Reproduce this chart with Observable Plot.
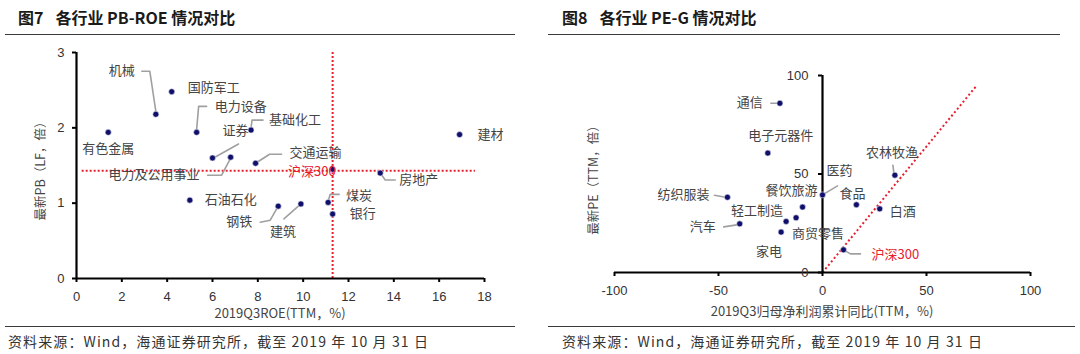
<!DOCTYPE html>
<html><head><meta charset="utf-8">
<script src="https://cdn.jsdelivr.net/npm/d3@7"></script>
<script src="https://cdn.jsdelivr.net/npm/@observablehq/plot@0.6"></script>
<style>
body{margin:0;background:#fff;}
#root{position:relative;width:1080px;height:354px;overflow:hidden;font-family:"Liberation Sans",Arial,sans-serif;}
.title{position:absolute;top:7px;line-height:20px;font-family:"Noto Sans CJK SC";font-weight:bold;font-size:16px;color:#1a1a1a;white-space:nowrap;}
.title .gap{display:inline-block;width:12px;}
.rule{position:absolute;height:0;border-top:1.5px solid #3a3a3a;}
.src{position:absolute;top:332px;line-height:18px;font-size:14px;color:#333;font-family:"Noto Sans CJK SC";white-space:nowrap;letter-spacing:1.1px;}
.xt{position:absolute;font-size:13px;line-height:16px;color:#444;white-space:nowrap;transform:translateX(-50%);font-family:"Noto Sans CJK SC";}
.yt{position:absolute;font-size:12.5px;line-height:16px;color:#444;white-space:nowrap;transform:translate(-50%,-50%) rotate(-90deg);font-family:"Noto Sans CJK SC";}
.plot{position:absolute;top:36px;}
</style></head><body><div id="root"></div>
<script>
// ---------- 图7 各行业 PB-ROE ----------
const pbIndustries = ["有色金属","机械","国防军工","电力设备","证券","电力及公用事业","基础化工","交通运输","沪深300","房地产","建材","石油石化","钢铁","建筑","煤炭","银行"];
const pbROE = [1.4, 3.5, 4.2, 5.3, 6.0, 6.8, 7.7, 7.9, 11.3, 13.4, 16.9, 5.0, 8.9, 9.9, 11.1, 11.3];
const pbPB  = [1.94, 2.18, 2.48, 1.94, 1.60, 1.61, 1.97, 1.53, 1.45, 1.40, 1.91, 1.04, 0.96, 0.99, 1.01, 0.855];
const pbRefROE = 11.3;          // 沪深300 ROE reference
const pbRefPB = 1.43;           // 沪深300 PB reference
const pbRefSpan = [0.25, 17.6]; // horizontal reference extent (ROE)
const pbXTicks = [0,2,4,6,8,10,12,14,16,18];
const pbYTicks = [0,1,2,3];

// ---------- 图8 各行业 PE-G ----------
const peIndustries = ["通信","电子元器件","纺织服装","汽车","家电","轻工制造","商贸零售","餐饮旅游","医药","食品","白酒","农林牧渔","沪深300"];
const peGrowth = [-20.5, -26.3, -45.7, -39.8, -19.9, -17.5, -12.7, -9.6, 0, 16.3, 27.5, 34.8, 10.1];
const pePE     = [85.9, 60.6, 38.2, 24.7, 20.5, 25.9, 27.8, 33.2, 39.4, 34.4, 32.3, 49.4, 11.5];
const peRefG = [0, 74];     // 沪深300 PEG line extent (growth)
const peRefSlope = 1.28;    // PE per unit growth
const peXTicks = [-100,-50,0,50,100];
const peYTicks = [0,50,100];

// ---------- label layout (pixel offsets from each dot) ----------
const pbLabelLayout = [
  {dx:0, dy:16, anchor:"middle"},
  {dx:-34, dy:-43, anchor:"middle", leader:[[0,-3],[-6,-43],[-14,-43]]},
  {dx:16, dy:-4, anchor:"start"},
  {dx:18, dy:-26, anchor:"start", leader:[[0,-3],[2,-26],[10,-26]]},
  {dx:23, dy:-27, anchor:"middle", leader:[[1,0],[26,-14]]},
  {dx:-31, dy:18, anchor:"end", leader:[[0,1],[-9,18],[-23,18]]},
  {dx:18, dy:-10, anchor:"start", leader:[[0,-2],[1,-10],[12,-10]]},
  {dx:34, dy:-10, anchor:"start", leader:[[0,0],[14,-9],[26,-9]]},
  {dx:3, dy:3, anchor:"end", red:true},
  {dx:19, dy:7, anchor:"start", leader:[[0,0],[5,7],[15,7]]},
  {dx:18, dy:0, anchor:"start"},
  {dx:15, dy:0, anchor:"start"},
  {dx:-26, dy:16, anchor:"end", leader:[[0,0],[-8,14],[-18,16]]},
  {dx:-18, dy:28, anchor:"middle", leader:[[0,0],[-17,15]]},
  {dx:18, dy:-7, anchor:"start", leader:[[0,-1],[2,-8],[11,-8]]},
  {dx:17, dy:0, anchor:"start"}
];
const peLabelLayout = [
  {dx:-17, dy:0, anchor:"end", leader:[[-9,0],[-1,0]]},
  {dx:13, dy:-17, anchor:"middle"},
  {dx:-18, dy:-2, anchor:"end", leader:[[-13,-2],[-2,0]]},
  {dx:-24, dy:3, anchor:"end", leader:[[-16,3],[-3,1]]},
  {dx:-12, dy:20, anchor:"middle"},
  {dx:-29, dy:-11, anchor:"middle"},
  {dx:-4, dy:16, anchor:"start"},
  {dx:-11, dy:-16, anchor:"middle"},
  {dx:4, dy:-24, anchor:"start", leader:[[0,0],[15,-9]]},
  {dx:-4, dy:-11, anchor:"middle"},
  {dx:10, dy:3, anchor:"start"},
  {dx:-3, dy:-22, anchor:"middle", leader:[[-2,-10],[-1,-2]]},
  {dx:28, dy:5, anchor:"start", red:true, leader:[[0,0],[7,4],[17,4]]}
];

const RED = "#e8202e";
const W = 540, H = 290;

function scatter(cfg) {
  const {names, xs, ys, layout, xDomain, yDomain, m, xTicks, yTicks, refMarks, yAxisDx, yTickPadding} = cfg;
  const kx = (W - m.l - m.r) / (xDomain[1] - xDomain[0]);
  const ky = (H - m.t - m.b) / (yDomain[1] - yDomain[0]);
  const rows = names.map((name, i) => ({
    name, x: xs[i], y: ys[i], ...layout[i],
    lx: xs[i] + layout[i].dx / kx, ly: ys[i] - layout[i].dy / ky
  }));
  const leaders = rows.flatMap(r => (r.leader || []).map(([ox, oy]) => ({name: r.name, x: r.x + ox / kx, y: r.y - oy / ky})));
  const textMark = (anchor, red) => Plot.text(rows.filter(r => r.anchor === anchor && !!r.red === red), {
    x: "lx", y: "ly", text: "name", textAnchor: anchor,
    fill: red ? RED : "#444", fontSize: 13, fontFamily: "Noto Sans CJK SC"
  });
  const fmt = d => String(d).replace("−", "-");
  return Plot.plot({
    width: W, height: H,
    marginLeft: m.l, marginRight: m.r, marginTop: m.t, marginBottom: m.b,
    style: {fontFamily: "'Liberation Sans', Arial, sans-serif", fontSize: "13px", background: "transparent"},
    x: {domain: xDomain},
    y: {domain: yDomain},
    marks: [
      ...refMarks,
      Plot.ruleX([0], {y1: yDomain[0], y2: yDomain[1], stroke: "#000", strokeWidth: 2.2}),
      Plot.ruleY([yDomain[0]], {x1: xDomain[0], x2: xDomain[1], stroke: "#000", strokeWidth: 2.2}),
      Plot.axisX({ticks: xTicks, tickSize: 4, tickPadding: 9, stroke: "#000", strokeWidth: 2, fill: "#333", fontSize: 13, label: null, tickFormat: fmt}),
      Plot.axisY({ticks: yTicks, tickSize: 4, tickPadding: yTickPadding, stroke: "#000", strokeWidth: 2, fill: "#333", fontSize: 13, label: null, dx: yAxisDx, tickFormat: fmt}),
      Plot.line(leaders, {x: "x", y: "y", z: "name", stroke: "#a0a0a0", strokeWidth: 1.6}),
      Plot.dot(rows, {x: "x", y: "y", r: 3, fill: "#10106a", stroke: "#dfe0ef", strokeWidth: 0.6}),
      textMark("start", false), textMark("middle", false), textMark("end", false),
      textMark("start", true), textMark("middle", true), textMark("end", true)
    ]
  });
}

const pbPlot = scatter({
  names: pbIndustries, xs: pbROE, ys: pbPB, layout: pbLabelLayout,
  xDomain: [0, 18], yDomain: [0, 3], m: {l: 76, r: 56, t: 16, b: 48},
  xTicks: pbXTicks, yTicks: pbYTicks, yAxisDx: 0, yTickPadding: 8,
  refMarks: [
    Plot.ruleY([pbRefPB], {x1: pbRefSpan[0], x2: pbRefSpan[1], stroke: RED, strokeWidth: 2, strokeDasharray: "2,2"}),
    Plot.ruleX([pbRefROE], {y1: 0, y2: 3, stroke: RED, strokeWidth: 2, strokeDasharray: "2,2"})
  ]
});
const peM = {l: 74, r: 50, t: 39, b: 54};
const pePlot = scatter({
  names: peIndustries, xs: peGrowth, ys: pePE, layout: peLabelLayout,
  xDomain: [-100, 100], yDomain: [0, 100], m: peM,
  xTicks: peXTicks, yTicks: peYTicks,
  yAxisDx: (0 - (-100)) * (W - peM.l - peM.r) / 200, yTickPadding: 10,
  refMarks: [
    Plot.link([{g1: peRefG[0], g2: peRefG[1]}], {
      x1: "g1", x2: "g2", y1: d => d.g1 * peRefSlope, y2: d => d.g2 * peRefSlope,
      stroke: RED, strokeWidth: 2, strokeDasharray: "2,2.5"
    })
  ]
});

const root = document.getElementById("root");
function add(html) { root.insertAdjacentHTML("beforeend", html); }
add(`<div class="title" style="left:18px">图7<span class="gap"></span>各行业 PB-ROE 情况对比</div>`);
add(`<div class="title" style="left:562px">图8<span class="gap"></span>各行业 PE-G 情况对比</div>`);
add(`<div class="rule" style="left:5px;top:34px;width:510px"></div>`);
add(`<div class="rule" style="left:548px;top:34px;width:512px"></div>`);
add(`<div class="rule" style="left:5px;top:326px;width:510px"></div>`);
add(`<div class="rule" style="left:548px;top:326px;width:527px"></div>`);
pbPlot.classList.add("plot"); pbPlot.style.left = "0px"; root.appendChild(pbPlot);
pePlot.classList.add("plot"); pePlot.style.left = "540px"; root.appendChild(pePlot);
add(`<div class="xt" style="left:280px;top:305px">2019Q3ROE(TTM，%)</div>`);
add(`<div class="xt" style="left:822px;top:303px">2019Q3归母净利润累计同比(TTM，%)</div>`);
add(`<div class="yt" style="left:40px;top:168px">最新PB（LF，倍）</div>`);
add(`<div class="yt" style="left:593px;top:177px">最新PE（TTM，倍）</div>`);
add(`<div class="src" style="left:8px">资料来源：Wind，海通证券研究所，截至 2019 年 10 月 31 日</div>`);
add(`<div class="src" style="left:562px">资料来源：Wind，海通证券研究所，截至 2019 年 10 月 31 日</div>`);
</script>
</body></html>
